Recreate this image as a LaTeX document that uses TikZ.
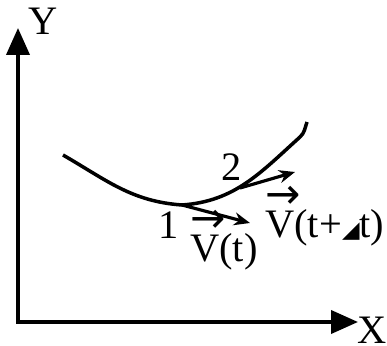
\documentclass[tikz,border=0pt]{standalone}
\usepackage{amsmath}
\usepackage{fontspec}
\setmainfont{Liberation Serif}
\newfontfamily\symfont{DejaVu Sans}
\usetikzlibrary{arrows.meta,positioning,calc}
\newcommand{\vecV}{\makebox[0pt][l]{\raisebox{0.74em}{\symfont\fontsize{24}{24}\selectfont →}}V}

\begin{document}
\begin{tikzpicture}[
    axis/.style={line width=2.2pt, -{Triangle[length=0.54cm, width=0.46cm]}},
    path/.style={line width=2pt},
    vel/.style={line width=1.8pt, -{Stealth[length=0.32cm, width=0.26cm]}},
    lbl/.style={font=\fontsize{23}{25}\selectfont, inner sep=0pt}
]
\useasboundingbox (0,0) rectangle (7.74,6.9);
% axes
\coordinate (o) at (0.36,0.46);
\coordinate (ytip) at (0.36,6.34);
\coordinate (xtip) at (7.16,0.46);
\node[lbl] (ylab) at (0.86,6.48) {Y};
\node[lbl] (xlab) at (7.45,0.29) {X};
\draw[axis] ([yshift=-1.1pt]o) -- (ytip);
\draw[axis] ([xshift=-1.1pt]o) -- (xtip);
% trajectory
\coordinate (start) at (1.26,3.8);
\coordinate (p1) at (3.64,2.8);
\coordinate (p2) at (4.8,3.14);
\coordinate (kink) at (6.0,4.16);
\coordinate (end) at (6.14,4.46);
\draw[path] (start) to[out=-30,in=176] (p1) to[out=4,in=222] (kink) to[out=42,in=250] (end);
% velocities
\coordinate (v1) at (5.0,2.44);
\coordinate (v2) at (5.9,3.46);
\draw[vel] (p1) -- (v1);
\draw[vel] (p2) -- (v2);
\node[lbl] (n1) at (3.38,2.4) {1};
\node[lbl] (n2) at (4.64,3.56) {2};
\node[lbl, anchor=base west] (vt) at (3.8,1.66) {\vecV(t)};
\node[lbl, anchor=base west] (vdt) at (5.3,2.14) {\vecV(t+{\symfont\fontsize{13}{13}\selectfont ◢}t)};
\end{tikzpicture}
\end{document}
